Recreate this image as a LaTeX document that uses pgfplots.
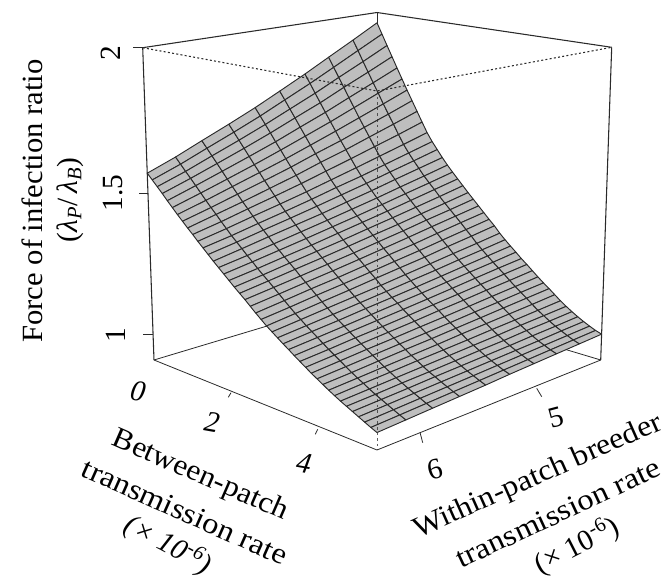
\documentclass[border=0pt]{standalone}
\usepackage{fontspec}
\setmainfont{Liberation Serif}
\usepackage{pgfplots}
\usepackage{pgfplotstable}
\pgfplotsset{compat=1.18}
\definecolor{surfgray}{HTML}{BEBEBE}
\definecolor{inkc}{HTML}{2A2A2A}
\pgfplotstableread[row sep=\\]{
b w z\\
0.000 6.33 1.562\\0.000 6.11 1.598\\0.000 5.90 1.637\\0.000 5.68 1.677\\0.000 5.46 1.719\\0.000 5.25 1.763\\0.000 5.03 1.810\\0.000 4.82 1.858\\0.000 4.60 1.908\\0.000 4.38 1.960\\
0.125 6.33 1.543\\0.125 6.11 1.577\\0.125 5.90 1.614\\0.125 5.68 1.652\\0.125 5.46 1.692\\0.125 5.25 1.734\\0.125 5.03 1.778\\0.125 4.82 1.823\\0.125 4.60 1.871\\0.125 4.38 1.919\\
0.250 6.33 1.524\\0.250 6.11 1.556\\0.250 5.90 1.591\\0.250 5.68 1.627\\0.250 5.46 1.665\\0.250 5.25 1.704\\0.250 5.03 1.745\\0.250 4.82 1.788\\0.250 4.60 1.832\\0.250 4.38 1.878\\
0.375 6.33 1.505\\0.375 6.11 1.536\\0.375 5.90 1.568\\0.375 5.68 1.602\\0.375 5.46 1.638\\0.375 5.25 1.675\\0.375 5.03 1.713\\0.375 4.82 1.754\\0.375 4.60 1.795\\0.375 4.38 1.838\\
0.500 6.33 1.485\\0.500 6.11 1.515\\0.500 5.90 1.545\\0.500 5.68 1.577\\0.500 5.46 1.610\\0.500 5.25 1.645\\0.500 5.03 1.681\\0.500 4.82 1.719\\0.500 4.60 1.758\\0.500 4.38 1.798\\
0.625 6.33 1.466\\0.625 6.11 1.494\\0.625 5.90 1.522\\0.625 5.68 1.552\\0.625 5.46 1.584\\0.625 5.25 1.616\\0.625 5.03 1.650\\0.625 4.82 1.685\\0.625 4.60 1.722\\0.625 4.38 1.759\\
0.750 6.33 1.447\\0.750 6.11 1.473\\0.750 5.90 1.500\\0.750 5.68 1.528\\0.750 5.46 1.557\\0.750 5.25 1.587\\0.750 5.03 1.619\\0.750 4.82 1.651\\0.750 4.60 1.685\\0.750 4.38 1.720\\
0.875 6.33 1.429\\0.875 6.11 1.453\\0.875 5.90 1.478\\0.875 5.68 1.504\\0.875 5.46 1.531\\0.875 5.25 1.560\\0.875 5.03 1.588\\0.875 4.82 1.619\\0.875 4.60 1.650\\0.875 4.38 1.683\\
1.000 6.33 1.411\\1.000 6.11 1.434\\1.000 5.90 1.456\\1.000 5.68 1.481\\1.000 5.46 1.506\\1.000 5.25 1.533\\1.000 5.03 1.559\\1.000 4.82 1.587\\1.000 4.60 1.616\\1.000 4.38 1.646\\
1.125 6.33 1.394\\1.125 6.11 1.414\\1.125 5.90 1.436\\1.125 5.68 1.458\\1.125 5.46 1.481\\1.125 5.25 1.505\\1.125 5.03 1.530\\1.125 4.82 1.555\\1.125 4.60 1.581\\1.125 4.38 1.609\\
1.250 6.33 1.376\\1.250 6.11 1.395\\1.250 5.90 1.415\\1.250 5.68 1.435\\1.250 5.46 1.456\\1.250 5.25 1.478\\1.250 5.03 1.501\\1.250 4.82 1.524\\1.250 4.60 1.548\\1.250 4.38 1.573\\
1.375 6.33 1.359\\1.375 6.11 1.376\\1.375 5.90 1.395\\1.375 5.68 1.414\\1.375 5.46 1.434\\1.375 5.25 1.455\\1.375 5.03 1.475\\1.375 4.82 1.497\\1.375 4.60 1.520\\1.375 4.38 1.543\\
1.500 6.33 1.342\\1.500 6.11 1.359\\1.500 5.90 1.377\\1.500 5.68 1.395\\1.500 5.46 1.414\\1.500 5.25 1.433\\1.500 5.03 1.453\\1.500 4.82 1.474\\1.500 4.60 1.495\\1.500 4.38 1.517\\
1.625 6.33 1.325\\1.625 6.11 1.342\\1.625 5.90 1.359\\1.625 5.68 1.376\\1.625 5.46 1.393\\1.625 5.25 1.412\\1.625 5.03 1.431\\1.625 4.82 1.451\\1.625 4.60 1.471\\1.625 4.38 1.491\\
1.750 6.33 1.309\\1.750 6.11 1.324\\1.750 5.90 1.340\\1.750 5.68 1.357\\1.750 5.46 1.374\\1.750 5.25 1.391\\1.750 5.03 1.409\\1.750 4.82 1.428\\1.750 4.60 1.447\\1.750 4.38 1.467\\
1.875 6.33 1.293\\1.875 6.11 1.308\\1.875 5.90 1.323\\1.875 5.68 1.339\\1.875 5.46 1.356\\1.875 5.25 1.372\\1.875 5.03 1.390\\1.875 4.82 1.408\\1.875 4.60 1.426\\1.875 4.38 1.445\\
2.000 6.33 1.277\\2.000 6.11 1.291\\2.000 5.90 1.306\\2.000 5.68 1.321\\2.000 5.46 1.338\\2.000 5.25 1.354\\2.000 5.03 1.371\\2.000 4.82 1.388\\2.000 4.60 1.406\\2.000 4.38 1.424\\
2.125 6.33 1.261\\2.125 6.11 1.275\\2.125 5.90 1.290\\2.125 5.68 1.305\\2.125 5.46 1.320\\2.125 5.25 1.336\\2.125 5.03 1.352\\2.125 4.82 1.368\\2.125 4.60 1.385\\2.125 4.38 1.403\\
2.250 6.33 1.246\\2.250 6.11 1.260\\2.250 5.90 1.274\\2.250 5.68 1.288\\2.250 5.46 1.303\\2.250 5.25 1.318\\2.250 5.03 1.333\\2.250 4.82 1.349\\2.250 4.60 1.365\\2.250 4.38 1.382\\
2.375 6.33 1.231\\2.375 6.11 1.244\\2.375 5.90 1.257\\2.375 5.68 1.271\\2.375 5.46 1.285\\2.375 5.25 1.300\\2.375 5.03 1.315\\2.375 4.82 1.331\\2.375 4.60 1.346\\2.375 4.38 1.362\\
2.500 6.33 1.215\\2.500 6.11 1.228\\2.500 5.90 1.241\\2.500 5.68 1.254\\2.500 5.46 1.268\\2.500 5.25 1.282\\2.500 5.03 1.297\\2.500 4.82 1.312\\2.500 4.60 1.327\\2.500 4.38 1.342\\
2.625 6.33 1.199\\2.625 6.11 1.212\\2.625 5.90 1.225\\2.625 5.68 1.237\\2.625 5.46 1.251\\2.625 5.25 1.265\\2.625 5.03 1.278\\2.625 4.82 1.293\\2.625 4.60 1.308\\2.625 4.38 1.322\\
2.750 6.33 1.184\\2.750 6.11 1.196\\2.750 5.90 1.209\\2.750 5.68 1.221\\2.750 5.46 1.234\\2.750 5.25 1.247\\2.750 5.03 1.260\\2.750 4.82 1.274\\2.750 4.60 1.288\\2.750 4.38 1.302\\
2.875 6.33 1.169\\2.875 6.11 1.181\\2.875 5.90 1.193\\2.875 5.68 1.205\\2.875 5.46 1.218\\2.875 5.25 1.230\\2.875 5.03 1.242\\2.875 4.82 1.256\\2.875 4.60 1.269\\2.875 4.38 1.283\\
3.000 6.33 1.156\\3.000 6.11 1.167\\3.000 5.90 1.178\\3.000 5.68 1.189\\3.000 5.46 1.200\\3.000 5.25 1.212\\3.000 5.03 1.224\\3.000 4.82 1.236\\3.000 4.60 1.248\\3.000 4.38 1.261\\
3.125 6.33 1.143\\3.125 6.11 1.153\\3.125 5.90 1.163\\3.125 5.68 1.174\\3.125 5.46 1.185\\3.125 5.25 1.196\\3.125 5.03 1.207\\3.125 4.82 1.219\\3.125 4.60 1.230\\3.125 4.38 1.242\\
3.250 6.33 1.130\\3.250 6.11 1.140\\3.250 5.90 1.149\\3.250 5.68 1.160\\3.250 5.46 1.170\\3.250 5.25 1.180\\3.250 5.03 1.191\\3.250 4.82 1.202\\3.250 4.60 1.213\\3.250 4.38 1.224\\
3.375 6.33 1.118\\3.375 6.11 1.127\\3.375 5.90 1.136\\3.375 5.68 1.146\\3.375 5.46 1.156\\3.375 5.25 1.165\\3.375 5.03 1.176\\3.375 4.82 1.186\\3.375 4.60 1.196\\3.375 4.38 1.207\\
3.500 6.33 1.105\\3.500 6.11 1.114\\3.500 5.90 1.123\\3.500 5.68 1.132\\3.500 5.46 1.141\\3.500 5.25 1.150\\3.500 5.03 1.160\\3.500 4.82 1.170\\3.500 4.60 1.180\\3.500 4.38 1.189\\
3.625 6.33 1.093\\3.625 6.11 1.101\\3.625 5.90 1.110\\3.625 5.68 1.118\\3.625 5.46 1.127\\3.625 5.25 1.136\\3.625 5.03 1.145\\3.625 4.82 1.154\\3.625 4.60 1.164\\3.625 4.38 1.173\\
3.750 6.33 1.081\\3.750 6.11 1.089\\3.750 5.90 1.097\\3.750 5.68 1.105\\3.750 5.46 1.113\\3.750 5.25 1.122\\3.750 5.03 1.130\\3.750 4.82 1.139\\3.750 4.60 1.147\\3.750 4.38 1.156\\
3.875 6.33 1.069\\3.875 6.11 1.077\\3.875 5.90 1.085\\3.875 5.68 1.092\\3.875 5.46 1.100\\3.875 5.25 1.107\\3.875 5.03 1.115\\3.875 4.82 1.123\\3.875 4.60 1.131\\3.875 4.38 1.139\\
4.000 6.33 1.058\\4.000 6.11 1.065\\4.000 5.90 1.072\\4.000 5.68 1.079\\4.000 5.46 1.086\\4.000 5.25 1.093\\4.000 5.03 1.101\\4.000 4.82 1.108\\4.000 4.60 1.116\\4.000 4.38 1.123\\
4.125 6.33 1.047\\4.125 6.11 1.053\\4.125 5.90 1.060\\4.125 5.68 1.067\\4.125 5.46 1.073\\4.125 5.25 1.080\\4.125 5.03 1.087\\4.125 4.82 1.094\\4.125 4.60 1.101\\4.125 4.38 1.108\\
4.250 6.33 1.036\\4.250 6.11 1.042\\4.250 5.90 1.048\\4.250 5.68 1.054\\4.250 5.46 1.060\\4.250 5.25 1.067\\4.250 5.03 1.073\\4.250 4.82 1.079\\4.250 4.60 1.085\\4.250 4.38 1.092\\
4.375 6.33 1.026\\4.375 6.11 1.032\\4.375 5.90 1.037\\4.375 5.68 1.043\\4.375 5.46 1.048\\4.375 5.25 1.053\\4.375 5.03 1.059\\4.375 4.82 1.064\\4.375 4.60 1.070\\4.375 4.38 1.076\\
4.500 6.33 1.016\\4.500 6.11 1.021\\4.500 5.90 1.026\\4.500 5.68 1.031\\4.500 5.46 1.036\\4.500 5.25 1.041\\4.500 5.03 1.046\\4.500 4.82 1.052\\4.500 4.60 1.057\\4.500 4.38 1.062\\
4.625 6.33 1.007\\4.625 6.11 1.011\\4.625 5.90 1.016\\4.625 5.68 1.020\\4.625 5.46 1.025\\4.625 5.25 1.030\\4.625 5.03 1.034\\4.625 4.82 1.040\\4.625 4.60 1.044\\4.625 4.38 1.049\\
4.750 6.33 0.998\\4.750 6.11 1.002\\4.750 5.90 1.006\\4.750 5.68 1.011\\4.750 5.46 1.015\\4.750 5.25 1.019\\4.750 5.03 1.023\\4.750 4.82 1.028\\4.750 4.60 1.032\\4.750 4.38 1.037\\
4.875 6.33 0.989\\4.875 6.11 0.993\\4.875 5.90 0.997\\4.875 5.68 1.001\\4.875 5.46 1.005\\4.875 5.25 1.009\\4.875 5.03 1.013\\4.875 4.82 1.017\\4.875 4.60 1.022\\4.875 4.38 1.026\\
5.000 6.33 0.980\\5.000 6.11 0.984\\5.000 5.90 0.988\\5.000 5.68 0.992\\5.000 5.46 0.996\\5.000 5.25 1.000\\5.000 5.03 1.004\\5.000 4.82 1.008\\5.000 4.60 1.012\\5.000 4.38 1.016\\
5.125 6.33 0.971\\5.125 6.11 0.975\\5.125 5.90 0.979\\5.125 5.68 0.983\\5.125 5.46 0.987\\5.125 5.25 0.991\\5.125 5.03 0.995\\5.125 4.82 0.999\\5.125 4.60 1.003\\5.125 4.38 1.007\\
5.250 6.33 0.963\\5.250 6.11 0.967\\5.250 5.90 0.971\\5.250 5.68 0.975\\5.250 5.46 0.979\\5.250 5.25 0.984\\5.250 5.03 0.988\\5.250 4.82 0.992\\5.250 4.60 0.996\\5.250 4.38 1.000\\
}\surfdata
\begin{document}
\begin{tikzpicture}
\begin{axis}[
  scale only axis, width=498.75pt, height=434.25pt,
  xmin=0, xmax=665, ymin=0, ymax=579, zmin=-1, zmax=1,
  y dir=reverse, view={0}{90}, axis lines=none, clip=false,
  declare function={
    Dz(\u,\v)=1-0.1478*\u+0.1447*\v;
    Dt(\u,\v)=1-0.109*\u+0.1073*\v;
    fx(\u,\v,\w)=(1-\w)*(154+167.28*\u+277.55*\v)/Dz(\u,\v)+\w*(142.7+193.21*\u+274.75*\v)/Dt(\u,\v);
    fy(\u,\v,\w)=(1-\w)*(360+23.49*\u-24.6*\v)/Dz(\u,\v)+\w*(47.7+33.38*\u-33.86*\v)/Dt(\u,\v);
  },
  colormap={flatgray}{color(0)=(surfgray) color(1)=(surfgray)},
  point meta min=0, point meta max=1,
  every axis plot/.append style={line join=round}
]
\coordinate (A) at (axis cs:0,0,0);
\coordinate (B) at (axis cs:665,579,0);
% back edges of the box
\addplot3[inkc, line width=0.6pt, mark=none] coordinates {(154,360,0)(377,293,0)(600.7,360,0)};
\addplot3[inkc, line width=0.6pt, mark=none] coordinates {(377,293,0)(377,12.5,0)};
\addplot3[inkc, line width=0.8pt, mark=none] coordinates {(142.7,47.7,0)(377,12.5,0)(611.7,47.3,0)};
\addplot3[inkc, line width=0.8pt, mark=none] coordinates {(142.7,47.7,0)(154,360,0)};
\addplot3[inkc, line width=0.8pt, mark=none] coordinates {(611.7,47.3,0)(600.7,360,0)};
% surface
\addplot3[surf, shader=faceted, faceted color=inkc, line width=0.7pt, mesh/rows=43, mesh/cols=10, point meta=0]
  table[x expr={fx(\thisrow{b}/5.25,(6.33-\thisrow{w})/1.95,(\thisrow{z}-0.91)/1.09)},
        y expr={fy(\thisrow{b}/5.25,(6.33-\thisrow{w})/1.95,(\thisrow{z}-0.91)/1.09)},
        z expr=0] {\surfdata};
% front edges
\addplot3[inkc, line width=0.6pt, mark=none] coordinates {(154,360,0)(377,450,0)(600.7,360,0)};
\addplot3[inkc, line width=0.8pt, dash pattern=on 1.5pt off 1.7pt, mark=none] coordinates {(142.7,47.7,0)(377,91,0)(611.7,47.3,0)};
\addplot3[inkc, opacity=0.75, line width=0.6pt, dash pattern=on 2pt off 2.2pt, mark=none] coordinates {(377,91,0)(377,450,0)};
% ticks
\addplot3[inkc, line width=0.7pt, mark=none] coordinates {(133,47.5,0)(143,47.5,0)};
\addplot3[inkc, line width=0.7pt, mark=none] coordinates {(139,193,0)(148,193,0)};
\addplot3[inkc, line width=0.7pt, mark=none] coordinates {(143,334,0)(153,334,0)};
\addplot3[inkc, line width=0.6pt, mark=none] coordinates {(231,392.7,0)(228.3,397.3,0)};
\addplot3[inkc, line width=0.6pt, mark=none] coordinates {(317.7,429.3,0)(315.3,434.3,0)};
\addplot3[inkc, line width=0.6pt, mark=none] coordinates {(420,432.3,0)(422.7,442.7,0)};
\addplot3[inkc, line width=0.6pt, mark=none] coordinates {(536.7,388.3,0)(541.7,396.7,0)};
% texts
\def\fs{\fontsize{22}{26}\selectfont}
\node[rotate=90] at (axis cs:32,201,0) {\fs\scalebox{1.045}[1]{Force of infection ratio}};
\node[rotate=90] at (axis cs:70,200,0) {\fs (\textit{λ}\textsubscript{\textit{P}}/\,\textit{λ}\textsubscript{\textit{B}})};
\node[rotate=90] at (axis cs:111,53,0) {\fs 2};
\node[rotate=90] at (axis cs:113,193,0) {\fs 1.5};
\node[rotate=90] at (axis cs:116,335,0) {\fs 1};
\node[rotate=-10] at (axis cs:138,391,0) {\fs\itshape 0};
\node[rotate=-10] at (axis cs:212,422,0) {\fs\itshape 2};
\node[rotate=-10] at (axis cs:304,463,0) {\fs\itshape 4};
\node[rotate=15] at (axis cs:435,469,0) {\fs 6};
\node[rotate=15] at (axis cs:556,417,0) {\fs 5};
\node[rotate=-23.5] at (axis cs:200,476,0) {\fs\scalebox{1.07}[1]{Between-patch}};
\node[rotate=-24] at (axis cs:185,512,0) {\fs\scalebox{1.11}[1]{transmission rate}};
\node[rotate=-28] at (axis cs:168,545,0) {\fs\itshape (× 10\textsuperscript{-6})};
\node[rotate=24] at (axis cs:538,477,0) {\fs\scalebox{1.08}[1]{Within-patch breeder}};
\node[rotate=25] at (axis cs:558,513,0) {\fs\scalebox{1.11}[1]{transmission rate}};
\node[rotate=27] at (axis cs:577,546,0) {\fs (× 10\textsuperscript{-6})};
\end{axis}
\pgfresetboundingbox
\path[use as bounding box] (A) rectangle (B);
\end{tikzpicture}
\end{document}
